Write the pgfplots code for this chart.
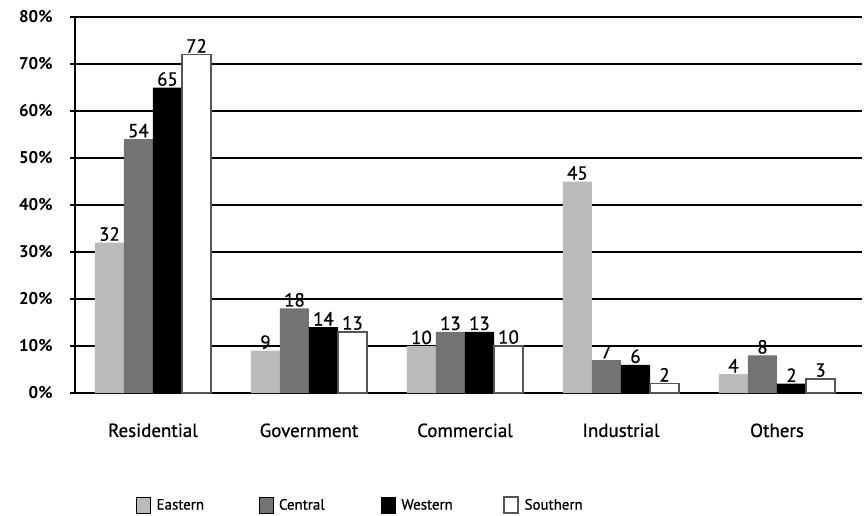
\documentclass[border=0pt]{standalone}
\usepackage{pgfplots}
\pgfplotsset{compat=1.18}
\usepackage{fontspec}
\setmainfont{PT Sans}
% a slightly heavier cut of the regular face for labels
\newfontfamily\medfont{PT Sans}[BoldFont={PT Sans}, BoldFeatures={FakeBold=0.7}]
\definecolor{eastern}{HTML}{BBBBBB}
\definecolor{central}{HTML}{737373}
\definecolor{southedge}{HTML}{555555}
\newcommand\legtext[1]{\makebox[94bp][l]{#1}}

\begin{document}
\begin{tikzpicture}
\begin{axis}[
  scale only axis,
  width=787bp, height=376bp,
  xmin=-0.5, xmax=4.545,
  ymin=0, ymax=80,
  /pgf/number format/assume math mode=true,
  axis lines=left,
  axis line style={line width=2.6bp, -},
  ytick={0,10,...,80},
  yticklabel={\pgfmathprintnumber{\tick}\%},
  yticklabel style={font=\fontsize{17}{17}\selectfont\bfseries, xshift=-14bp},
  ymajorgrids,
  major grid style={black, line width=1.4bp},
  xtick={0,1,2,3,4},
  xticklabels={Residential, Government, Commercial, Industrial, Others},
  xticklabel style={font=\fontsize{19}{19}\selectfont\medfont\bfseries, yshift=-22bp},
  major x tick style={draw=none},
  extra x ticks={-0.5,0.5,1.5,2.5,3.5},
  extra x tick labels={},
  extra x tick style={major tick length=12bp, tick style={black, line width=2.2bp, draw=black}},
  tick align=outside,
  major tick length=5bp,
  tick style={black, line width=2.2bp},
  ybar=0pt,
  bar width=0.186,
  nodes near coords,
  every node near coord/.append style={font=\fontsize{19}{19}\selectfont\medfont\bfseries, black, inner sep=1.5bp},
  legend columns=4,
  legend style={draw=none, inner sep=0pt, at={(0.0775,-0.298)}, anchor=west,
    font=\fontsize{15}{15}\selectfont\medfont\bfseries,
    /tikz/every even column/.append style={column sep=8bp},
    /tikz/every odd column/.append style={column sep=6bp},
    nodes={inner xsep=0pt, inner ysep=2bp}},
  legend image code/.code={\draw[#1] (0bp,-8bp) rectangle (14bp,8bp);},
  clip=false,
]
\addplot[bar shift=-0.279, fill=eastern, draw=none]
  coordinates {(0,32) (1,9) (2,10) (3,45) (4,4)};
\addlegendentry{\legtext{Eastern}}
\addplot[bar shift=-0.093, fill=central, draw=none]
  coordinates {(0,54) (1,18) (2,13) (3,7) (4,8)};
\addlegendentry{\legtext{Central}}
\addplot[bar shift=0.093, fill=black, draw=none]
  coordinates {(0,65) (1,14) (2,13) (3,6) (4,2)};
\addlegendentry{\legtext{Western}}
\addplot[bar shift=0.279, fill=white, draw=southedge, line width=1.2bp]
  coordinates {(0,72) (1,13) (2,10) (3,2) (4,3)};
\addlegendentry{Southern}
\end{axis}
\path (current axis.south west) ++(-75bp,-123bp) rectangle ++(865bp,516bp);
\end{tikzpicture}
\end{document}
